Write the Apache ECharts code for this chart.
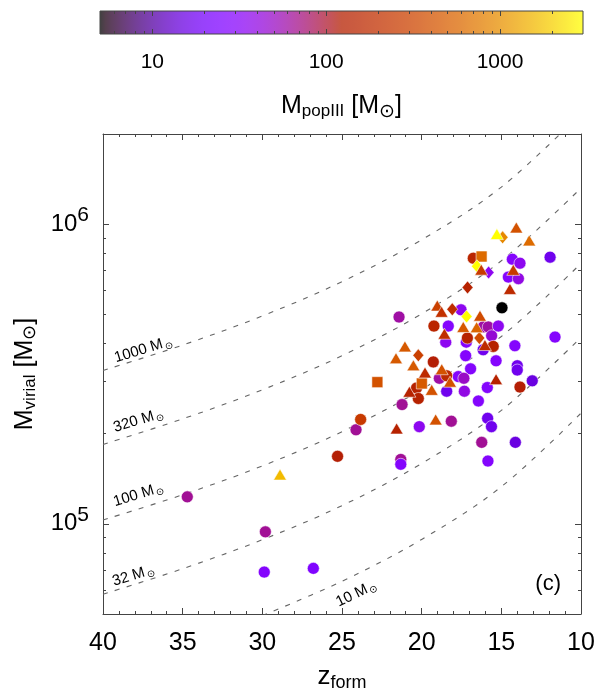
<!DOCTYPE html>
<html>
<head>
<meta charset="utf-8">
<script src="https://cdn.jsdelivr.net/npm/echarts@6/dist/echarts.min.js"></script>
<style>
html, body { margin: 0; padding: 0; background: #fff; }
#chart { width: 596px; height: 695px; }
</style>
</head>
<body>
<div id="chart"></div>
<script>
// Halo formation redshift, virial mass and Pop III stellar mass, one set per marker shape
const circleZ = [34.71, 29.81, 29.88, 26.80, 25.28, 24.12, 23.83, 21.42, 21.23, 21.31, 21.31, 20.15, 18.14, 16.23, 15.84, 14.12, 15.86, 15.62, 16.44, 15.88, 15.33, 14.15, 11.63, 14.0, 14.0, 13.06, 13.83, 16.93, 17.24, 17.20, 18.49, 17.70, 17.35, 18.89, 18.43, 17.32, 19.27, 18.43, 20.32, 20.21, 16.76, 14.31, 13.83, 11.94, 14.56, 13.93, 14.96, 17.53, 19.23, 18.33, 16.14, 15.82, 15.19, 17.13, 15.61, 15.51, 16.14];
const circleMvir = [1.23e5, 9.4e4, 6.9e4, 7.1e4, 1.68e5, 2.06e5, 2.23e5, 4.9e5, 2.5e5, 1.64e5, 1.58e5, 2.11e5, 2.2e5, 1.87e5, 1.62e5, 1.87e5, 2.25e5, 2.11e5, 2.57e5, 2.85e5, 3.5e5, 3.93e5, 4.2e5, 3.37e5, 3.26e5, 3.0e5, 2.86e5, 3.29e5, 3.64e5, 4.04e5, 4.04e5, 3.1e5, 3.06e5, 3.06e5, 2.77e5, 2.77e5, 3.47e5, 3.12e5, 2.84e5, 2.62e5, 7.7e5, 7.64e5, 7.41e5, 7.76e5, 6.66e5, 6.58e5, 5.26e5, 5.18e5, 4.57e5, 4.57e5, 4.54e5, 4.54e5, 4.57e5, 4.17e5, 4.24e5, 3.91e5, 3.81e5];
const circleMpop = [65, 65, 28, 25, 120, 65, 250, 60, 65, 65, 28, 35, 65, 65, 28, 15, 17, 17, 28, 28, 28, 28, 28, 17, 17, 15, 120, 28, 28, 28, 35, 28, 50, 60, 17, 40, 120, 160, 130, 130, 150, 28, 35, 17, 28, 40, 5, 35, 150, 28, 60, 60, 35, 130, 45, 130, 17];

const triZ = [28.89, 21.57, 19.12, 15.33, 18.74, 18.22, 19.37, 14.06, 15.28, 13.25, 16.26, 14.25, 14.46, 19.02, 18.75, 16.34, 17.39, 16.55, 18.57, 16.03, 21.05, 21.61, 20.52, 19.79, 20.77];
const triMvir = [1.46e5, 2.08e5, 2.23e5, 3.04e5, 3.28e5, 2.98e5, 2.8e5, 9.75e5, 9.27e5, 8.83e5, 7.05e5, 7.04e5, 6.08e5, 5.35e5, 5.1e5, 4.95e5, 4.54e5, 4.53e5, 4.31e5, 3.95e5, 3.91e5, 3.57e5, 3.38e5, 3.2e5, 2.76e5];
const triMpop = [1600, 130, 400, 130, 400, 400, 400, 400, 3000, 600, 250, 250, 170, 280, 200, 350, 450, 550, 180, 170, 450, 450, 450, 170, 130];

const squareZ = [22.78, 19.99, 16.24];
const squareMvir = [2.97e5, 2.94e5, 7.8e5];
const squareMpop = [400, 450, 600];

const diamondZ = [14.92, 16.53, 15.80, 17.12, 18.08, 17.18, 16.38, 20.21];
const diamondMvir = [9.04e5, 7.24e5, 6.9e5, 6.15e5, 5.2e5, 4.92e5, 4.17e5, 3.65e5];
const diamondMpop = [900, 3000, 35, 130, 180, 3000, 350, 280];

// Reference tracks of constant Pop III mass in the z - M_virial plane
const curveZ = [40, 35, 30, 25, 20, 15, 10];
const curve1000 = [3.25e5, 3.95e5, 4.94e5, 6.43e5, 8.87e5, 1.33e6, 2.34e6];
const curve320 = [1.84e5, 2.24e5, 2.80e5, 3.64e5, 5.02e5, 7.55e5, 1.32e6];
const curve100 = [1.03e5, 1.25e5, 1.56e5, 2.03e5, 2.81e5, 4.22e5, 7.40e5];
const curve32 = [5.82e4, 7.08e4, 8.85e4, 1.15e5, 1.59e5, 2.39e5, 4.19e5];
const curve10 = [null, null, 4.94e4, 6.43e4, 8.87e4, 1.33e5, 2.34e5];

// Axis ticks
const xTicks = [40, 35, 30, 25, 20, 15, 10];
const yMajor = [1e5, 1e6];
const yMinor = [6e4, 7e4, 8e4, 9e4, 2e5, 3e5, 4e5, 5e5, 6e5, 7e5, 8e5, 9e5];
const cbMajor = [10, 100, 1000];
const cbMinor = [6, 7, 8, 9, 20, 30, 40, 50, 60, 70, 80, 90, 200, 300, 400, 500, 600, 700, 800, 900, 2000];
const cbMin = 5, cbMax = 3000;

const FONT = '"Liberation Sans", Arial, Helvetica, sans-serif';
const AXIS_COLOR = '#444';

// gnuplot-style palette: r = sqrt(t), g = t^3, b = sin(2 pi t)
function paletteRGB(t) {
  t = Math.max(0, Math.min(1, t));
  const r = Math.sqrt(t);
  const g = t * t * t;
  const b = Math.max(0, Math.sin(2 * Math.PI * t));
  return [r, g, b];
}
function toCss(rgb) {
  return 'rgb(' + rgb.map(v => Math.round(Math.max(0, Math.min(1, v)) * 255)).join(',') + ')';
}
function massToT(m) {
  return (Math.log10(m) - Math.log10(cbMin)) / (Math.log10(cbMax) - Math.log10(cbMin));
}
function popColor(m) {
  return toCss(paletteRGB(massToT(m)));
}

// Colour bar gradient, lightened the way the printed scale appears
const cbStops = [];
for (let i = 0; i <= 80; i++) {
  const t = i / 80;
  const a = 0.75;
  const rgb = paletteRGB(t).map(v => v * a + (1 - a));
  cbStops.push({ offset: t, color: toCss(rgb) });
}

function toPoints(zs, ms, ps) {
  return zs.map((z, i) => [z, ms[i], ps[i]]);
}
function curvePoints(vals) {
  return curveZ.map((z, i) => [z, vals[i]]);
}

const markerStyle = {
  color: p => popColor(p.data[2]),
  opacity: 1,
  borderColor: 'rgba(255,255,255,0.7)',
  borderWidth: 0.8
};

function scatterSeries(name, symbol, size, zs, ms, ps) {
  return {
    name: name,
    type: 'scatter',
    xAxisIndex: 0,
    yAxisIndex: 0,
    symbol: symbol,
    symbolSize: size,
    data: toPoints(zs, ms, ps),
    itemStyle: markerStyle,
    silent: true,
    z: 5
  };
}

function curveSeries(name, vals) {
  return {
    name: name,
    type: 'line',
    xAxisIndex: 0,
    yAxisIndex: 0,
    data: curvePoints(vals),
    symbol: 'none',
    smooth: 0.35,
    connectNulls: false,
    clip: true,
    silent: true,
    lineStyle: { color: '#666', width: 1.1, type: [5, 7.5] },
    z: 2
  };
}

const sunRich = {
  m: { fontSize: 15, fontFamily: FONT, color: '#111' },
  s: { fontSize: 10, fontFamily: FONT, color: '#777', padding: [8, 0, 0, 1] }
};

function mainYAxis(position, isMajor, withLabels) {
  return {
    type: 'log',
    gridIndex: 0,
    position: position,
    min: 5e4,
    max: 2e6,
    logBase: 10,
    axisLine: { show: isMajor, lineStyle: { color: AXIS_COLOR, width: 1 } },
    axisTick: {
      show: true, inside: true, length: isMajor ? 6 : 3,
      customValues: isMajor ? yMajor : yMinor,
      lineStyle: { color: AXIS_COLOR, width: 1 }
    },
    axisLabel: withLabels ? {
      show: true,
      customValues: yMajor,
      margin: 14,
      formatter: v => '10{e|' + Math.round(Math.log10(v)) + '}',
      fontSize: 24,
      fontFamily: FONT,
      color: '#000',
      rich: { e: { fontSize: 21, fontFamily: FONT, color: '#000', padding: [0, 0, 17, 0] } }
    } : { show: false },
    splitLine: { show: false },
    minorTick: { show: false },
    name: withLabels ? 'M{sub|virial} [M{sun|⊙}]' : '',
    nameLocation: 'middle',
    nameRotate: 90,
    nameGap: 64,
    nameTextStyle: {
      fontSize: 25, fontFamily: FONT, color: '#000',
      rich: {
        sub: { fontSize: 17, fontFamily: FONT, color: '#000', padding: [10, 0, 0, 0] },
        sun: { fontSize: 18, fontFamily: FONT, color: '#000', padding: [10, 0, 0, 0] }
      }
    }
  };
}

function mainXAxis(position, withLabels) {
  return {
    type: 'value',
    gridIndex: 0,
    position: position,
    min: 10,
    max: 40,
    interval: 5,
    inverse: true,
    axisLine: { show: true, lineStyle: { color: AXIS_COLOR, width: 1 } },
    axisTick: { show: true, inside: true, length: 6, lineStyle: { color: AXIS_COLOR, width: 1 } },
    minorTick: { show: true, splitNumber: 5, length: 3, lineStyle: { color: AXIS_COLOR, width: 1 } },
    axisLabel: withLabels ? {
      show: true, margin: 17, fontSize: 25, fontFamily: FONT, color: '#000',
      customValues: xTicks
    } : { show: false },
    splitLine: { show: false },
    name: withLabels ? 'z{sub|form}' : '',
    nameLocation: 'middle',
    nameGap: 48,
    nameTextStyle: {
      fontSize: 26, fontFamily: FONT, color: '#000',
      rich: { sub: { fontSize: 18, fontFamily: FONT, color: '#000', padding: [12, 0, 0, 0] } }
    }
  };
}

function cbAxis(position, isMajor, withLabels) {
  return {
    type: 'log',
    gridIndex: 1,
    position: position,
    min: cbMin,
    max: cbMax,
    logBase: 10,
    axisLine: { show: false },
    axisTick: {
      show: true, inside: true, length: isMajor ? 5 : 3,
      customValues: isMajor ? cbMajor : cbMinor,
      lineStyle: { color: AXIS_COLOR, width: 1 }
    },
    axisLabel: withLabels ? {
      show: true, customValues: cbMajor, margin: 18,
      fontSize: 21, fontFamily: FONT, color: '#000',
      formatter: v => String(Math.round(v))
    } : { show: false },
    splitLine: { show: false },
    name: withLabels ? 'M{sub|popIII} [M{sun|⊙}]' : '',
    nameLocation: 'middle',
    nameGap: 58,
    nameTextStyle: {
      fontSize: 25, fontFamily: FONT, color: '#000',
      rich: {
        sub: { fontSize: 17, fontFamily: FONT, color: '#000', padding: [10, 0, 0, 0] },
        sun: { fontSize: 19, fontFamily: FONT, color: '#000', padding: [10, 0, 0, 0] }
      }
    }
  };
}

const chart = echarts.init(document.getElementById('chart'), null, { renderer: 'canvas' });

const option = {
  animation: false,
  backgroundColor: '#fff',
  textStyle: { fontFamily: FONT },
  grid: [
    { left: 103, right: 15, top: 134, bottom: 81, containLabel: false, outerBoundsMode: 'none' },
    {
      left: 100, right: 13, top: 11, height: 23, containLabel: false, outerBoundsMode: 'none',
      show: true,
      backgroundColor: new echarts.graphic.LinearGradient(0, 0, 1, 0, cbStops),
      borderColor: AXIS_COLOR,
      borderWidth: 1
    }
  ],
  xAxis: [
    mainXAxis('bottom', true),
    mainXAxis('top', false),
    cbAxis('bottom', true, true),
    cbAxis('bottom', false, false),
    cbAxis('top', true, false),
    cbAxis('top', false, false)
  ],
  yAxis: [
    mainYAxis('left', true, true),
    mainYAxis('left', false, false),
    mainYAxis('right', true, false),
    mainYAxis('right', false, false),
    { type: 'value', gridIndex: 1, min: 0, max: 1, show: false }
  ],
  series: [
    curveSeries('1000', curve1000),
    curveSeries('320', curve320),
    curveSeries('100', curve100),
    curveSeries('32', curve32),
    curveSeries('10', curve10),
    scatterSeries('circles', 'circle', 12, circleZ, circleMvir, circleMpop),
    scatterSeries('squares', 'rect', 11, squareZ, squareMvir, squareMpop),
    scatterSeries('diamonds', 'diamond', [11, 13], diamondZ, diamondMvir, diamondMpop),
    scatterSeries('triangles', 'triangle', [13, 11], triZ, triMvir, triMpop)
  ]
};
chart.setOption(option);

// Labels along the constant-mass tracks: anchor (z, M_virial) and text angle
const trackLabels = [
  { text: '1000', z: 37.49, m: 3.81e5, angle: 17 },
  { text: '320', z: 37.80, m: 2.21e5, angle: 17 },
  { text: '100', z: 37.80, m: 1.25e5, angle: 17 },
  { text: '32', z: 38.12, m: 6.71e4, angle: 17 },
  { text: '10', z: 24.12, m: 5.84e4, angle: 26 }
];

const graphics = trackLabels.map(l => {
  const p = chart.convertToPixel({ xAxisIndex: 0, yAxisIndex: 0 }, [l.z, l.m]);
  return {
    type: 'text',
    x: p[0],
    y: p[1],
    rotation: l.angle * Math.PI / 180,
    z: 10,
    style: {
      text: '{m|' + l.text + ' M}{s|⊙}',
      rich: sunRich,
      align: 'center',
      verticalAlign: 'middle'
    }
  };
});

graphics.push({
  type: 'text',
  right: 35,
  bottom: 100,
  z: 10,
  style: { text: '(c)', fontSize: 22, fontFamily: FONT, fill: '#000' }
});

chart.setOption({ graphic: graphics });
</script>
</body>
</html>
